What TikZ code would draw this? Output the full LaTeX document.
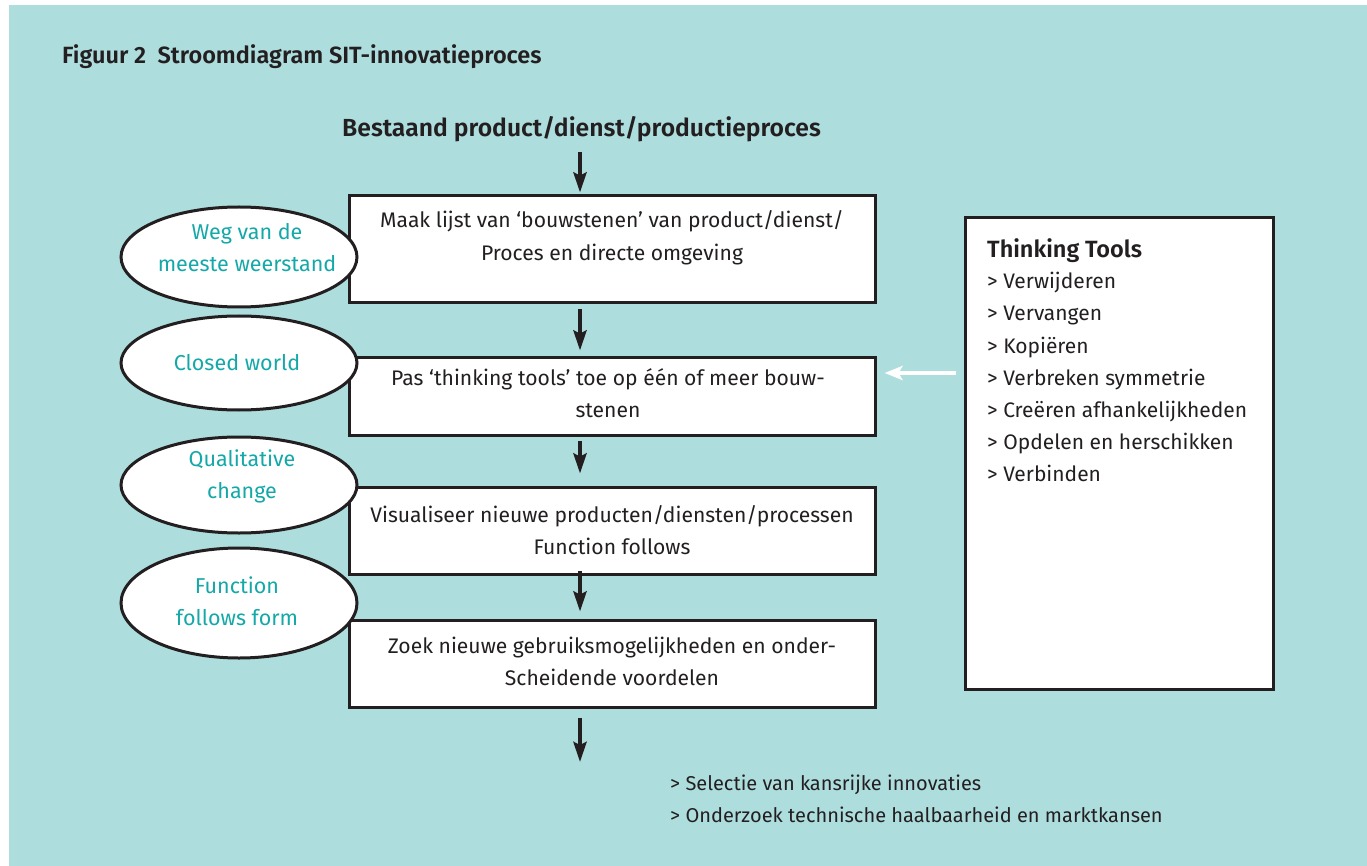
\documentclass[tikz,border=0pt]{standalone}
\usepackage{fontspec}
\setmainfont{Fira Sans}[BoldFont=Fira Sans SemiBold]
\usetikzlibrary{arrows.meta,shapes.geometric}
\definecolor{bgteal}{RGB}{174,221,222}
\definecolor{txteal}{RGB}{20,168,168}
\definecolor{ink}{RGB}{35,31,32}
\tikzset{
  x=1pt,y=-1pt,
  boxshape/.style={draw=ink,line width=3pt,fill=white,minimum width=526pt,inner sep=0pt},
  boxtxt/.style={align=center,text=ink,font=\fontsize{21.1}{32.5}\selectfont,inner sep=0pt},
  ellshape/.style={ellipse,draw=ink,line width=3pt,fill=white,minimum width=236pt,inner sep=0pt},
  elltxt/.style={align=center,text=txteal,font=\fontsize{21.5}{32}\selectfont,inner sep=0pt},
  plaintxt/.style={anchor=base west,text=ink,font=\fontsize{21}{32}\selectfont,inner sep=0pt},
  outtxt/.style={anchor=base west,text=ink,font=\fontsize{20}{32}\selectfont,inner sep=0pt},
  boldtxt/.style={anchor=base west,text=ink,font=\fontsize{23.5}{26}\selectfont\bfseries,inner sep=0pt},
  flowarrow/.style={draw=ink,line width=4pt,-{Stealth[length=20pt,width=13pt,inset=3pt]}},
  whitearrow/.style={draw=white,line width=3.5pt,-{Stealth[length=18pt,width=14pt,inset=4pt]}}
}
\begin{document}
\begin{tikzpicture}
\useasboundingbox (0,0) rectangle (1367,866);
\fill[white] (0,0) rectangle (1367,866);
\fill[bgteal] (9,5) rectangle (1367,866);

% title
\node[boldtxt] (title) at (62,64) {Figuur 2\ \ Stroomdiagram SIT-innovatieproces};
\node[boldtxt,font=\fontsize{24.7}{28}\selectfont\bfseries] (start) at (342,137) {Bestaand product/dienst/productieproces};

% boxes
\node[boxshape,minimum height=107pt] (b1) at (612,249.5) {};
\node[boxtxt] (b1t) at (612,237.5) {Maak lijst van ‘bouwstenen’ van product/dienst/\\Proces en directe omgeving};
\node[boxshape,minimum height=78pt] (b2) at (612,396) {};
\node[boxtxt] (b2t) at (608,393) {Pas ‘thinking tools’ toe op één of meer bouw-\\stenen};
\node[boxshape,minimum height=87pt] (b3) at (612,530.5) {};
\node[boxtxt] (b3t) at (612,530) {Visualiseer nieuwe producten/diensten/processen\\Function follows};
\node[boxshape,minimum height=87pt] (b4) at (612,663.5) {};
\node[boxtxt] (b4t) at (612,661.5) {Zoek nieuwe gebruiksmogelijkheden en onder-\\Scheidende voordelen};

% ellipses
\node[ellshape,minimum height=100pt] (e1) at (239,257) {};
\node[elltxt] (e1t) at (247,248) {Weg van de\\meeste weerstand};
\node[ellshape,minimum height=94pt] (e2) at (239,363) {};
\node[elltxt] (e2t) at (237,363) {Closed world};
\node[ellshape,minimum height=96pt] (e3) at (239,485) {};
\node[elltxt] (e3t) at (242,476) {Qualitative\\change};
\node[ellshape,minimum height=110pt] (e4) at (239,603) {};
\node[elltxt] (e4t) at (237,601.5) {Function\\follows form};

% thinking tools box
\node[draw=ink,line width=3pt,fill=white,minimum width=308pt,minimum height=471pt,inner sep=0pt] (tt) at (1119,453.5) {};
\node[boldtxt] (ttt) at (987,258) {Thinking Tools};
\node[plaintxt] (tt1) at (987,289) {> Verwijderen};
\node[plaintxt] (tt2) at (987,321) {> Vervangen};
\node[plaintxt] (tt3) at (987,353) {> Kopiëren};
\node[plaintxt] (tt4) at (987,385) {> Verbreken symmetrie};
\node[plaintxt] (tt5) at (987,417) {> Creëren afhankelijkheden};
\node[plaintxt] (tt6) at (987,449) {> Opdelen en herschikken};
\node[plaintxt] (tt7) at (987,481) {> Verbinden};

% bottom text
\node[outtxt] (o1) at (670,790) {> Selectie van kansrijke innovaties};
\node[outtxt] (o2) at (670,822) {> Onderzoek technische haalbaarheid en marktkansen};

% arrows
\coordinate (ax) at (580,0);
\coordinate (endp) at (580,762);
\coordinate (wa) at (0,373);
\draw[flowarrow,shorten <=9pt,shorten >=2pt] (start.south -| ax) -- (b1.north -| ax);
\draw[flowarrow,shorten <=5pt,shorten >=5pt] (b1.south -| ax) -- (b2.north -| ax);
\draw[flowarrow,shorten <=4pt,shorten >=12pt] (b2.south -| ax) -- (b3.north -| ax);
\draw[flowarrow,shorten <=-5pt,shorten >=7pt] (b3.south -| ax) -- (b4.north -| ax);
\draw[flowarrow,shorten <=9pt] (b4.south -| ax) -- (endp);
\draw[whitearrow,shorten <=8pt,shorten >=8pt] (tt.west |- wa) -- (b2.east |- wa);
\end{tikzpicture}
\end{document}
